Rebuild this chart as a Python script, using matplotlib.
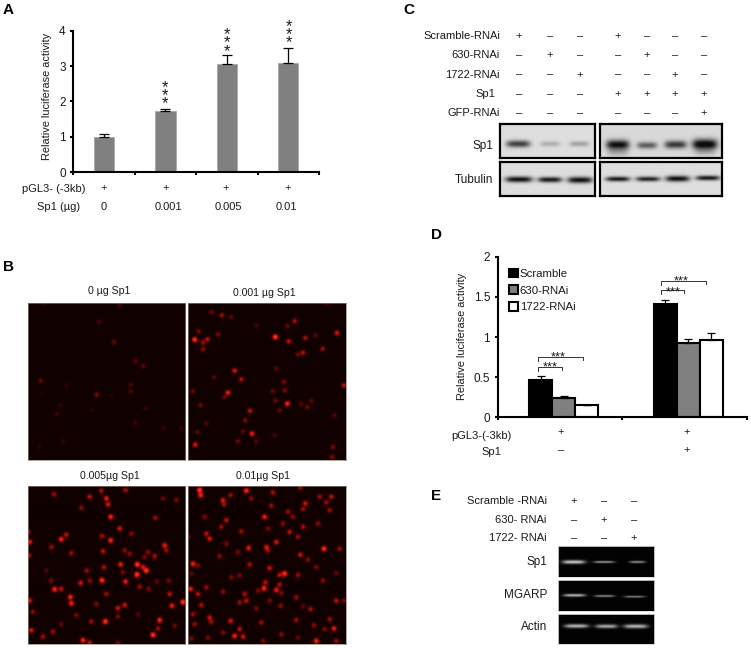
import numpy as np
import matplotlib
matplotlib.use("Agg")
import matplotlib.pyplot as plt
from matplotlib.colors import LinearSegmentedColormap

plt.rcParams['font.family'] = ['Liberation Sans', 'DejaVu Sans']
W, H = 751, 648
TXT = '#1a1a1a'

# ---- Panel A data
a_values = [1.0, 1.73, 3.05, 3.08]
a_errors = [0.08, 0.05, 0.25, 0.42]
a_yticks = [0, 1, 2, 3, 4]
a_doses = ['0', '0.001', '0.005', '0.01']

# ---- Panel D data
d_series = ['Scramble', '630-RNAi', '1722-RNAi']
d_scramble = [0.46, 1.41]
d_630 = [0.24, 0.93]
d_1722 = [0.15, 0.96]
d_err_scramble = [0.05, 0.05]
d_err_630 = [0.02, 0.05]
d_err_1722 = [0.0, 0.09]
d_yticks = [0, 0.5, 1, 1.5, 2]
d_yticklabels = ['0', '0.5', '1', '1.5', '2']

# ---- Panel C design table
c_rows = ['Scramble-RNAi', '630-RNAi', '1722-RNAi', 'Sp1', 'GFP-RNAi']
c_scr = '+--+---'
c_630 = '-+--+--'
c_1722 = '--+--+-'
c_sp1 = '---++++'
c_gfp = '------+'

# ---- Panel E design table
e_rows = ['Scramble -RNAi', '630- RNAi', '1722- RNAi']
e_scr = '+--'
e_630 = '-+-'
e_1722 = '--+'

# ---- Band strengths read from the blots
c_sp1_left = [0.8, 0.24, 0.3]
c_sp1_right = [1.0, 0.62, 0.8, 1.1]
c_tub_left = [1.0, 0.95, 1.0]
c_tub_right = [0.95, 0.9, 1.0, 0.95]
e_sp1 = [0.85, 0.6, 0.55]
e_mgarp = [0.75, 0.55, 0.5]
e_actin = [0.8, 0.75, 0.8]

# ---- Fluorescent spots (x, y in a 474-unit frame, brightness)
spots_0 = [(46,3,.14),(275,10,.16),(213,60,.16),(258,120,.24),(323,178,.2),(346,192,.2),(38,236,.24),(115,250,.1),
           (308,248,.16),(308,268,.16),(206,278,.3),(95,310,.1),(88,336,.13),(190,325,.08),(352,320,.1),(322,362,.13),
           (408,378,.1),(460,380,.1),(105,418,.1),(33,435,.08),(250,280,.06),(40,272,.06)]
spots_1 = [(20,113,.9),(45,122,.4),(58,112,.5),(45,142,.35),(32,88,.3),(90,97,.3),(70,30,.25),(102,40,.4),(130,45,.2),
           (262,105,1),(302,118,.5),(352,108,.45),(320,57,.45),(298,72,.25),(382,100,.2),(447,93,.6),(404,140,.4),
           (345,152,.45),(330,157,.25),(140,206,.6),(160,232,.45),(78,226,.2),(120,272,.7),(110,285,.25),(14,268,.25),
           (265,200,.2),(288,240,.3),(290,265,.3),(255,268,.25),(298,305,.8),(262,296,.25),(340,305,.2),(370,297,.2),
           (468,250,.5),(186,326,.5),(275,325,.25),(172,355,.3),(192,395,.7),(165,388,.2),(22,428,.6),(28,390,.2),
           (38,310,.25),(55,365,.2),(150,418,.25),(205,418,.2),(435,435,.3),(432,465,.3),(440,340,.2),(415,3,.2),
           (205,70,.15),(260,400,.15),(358,315,.25)]
spots_2 = [(78,28,.4),(185,35,.5),(235,40,.7),(240,58,.6),(220,17,.45),(293,15,.45),(160,68,.35),(248,95,.8),(382,98,.4),
           (405,40,.25),(445,45,.3),(275,130,.6),(310,145,.35),(100,162,.8),(115,148,.5),(222,152,.45),(248,165,.8),
           (5,170,.7),(0,140,.5),(70,185,.4),(130,203,.4),(2,210,.5),(225,197,.5),(290,195,.35),(305,205,.35),(410,180,.7),
           (415,195,.4),(360,200,.35),(380,212,.45),(328,237,1),(278,237,.7),(355,255,1),(345,245,.6),(327,267,1),
           (228,245,.45),(176,255,.4),(285,260,.3),(222,284,.95),(293,288,.7),(158,292,.6),(185,285,.35),(70,285,.3),
           (80,311,.85),(100,310,.5),(127,334,.8),(130,353,.75),(5,345,.6),(235,325,.4),(335,303,.4),(362,310,.3),
           (387,288,.25),(425,325,.5),(422,285,.3),(465,349,1),(432,360,.7),(270,367,.55),(290,358,.55),(205,355,.3),
           (270,392,.3),(232,407,.95),(190,407,.4),(145,388,.3),(395,403,.8),(375,447,.95),(390,428,.4),(10,433,.6),
           (45,452,.4),(75,437,.4),(165,463,.8),(185,470,.5),(440,420,.25),(15,378,.35),(100,415,.25),(330,385,.2),
           (270,470,.25),(350,215,.3),(55,255,.2)]
spots_3 = [(35,15,1),(38,30,.8),(175,17,.85),(128,30,.4),(255,22,.45),(337,8,.4),(105,45,.6),(108,58,.4),(190,40,.35),
           (250,62,.4),(395,35,.4),(430,35,.5),(415,52,.4),(352,55,.55),(345,72,.4),(425,75,.4),(300,80,.4),(230,95,.75),
           (50,95,.3),(115,105,.5),(100,125,.4),(315,95,.35),(285,115,.35),(345,125,.45),(390,115,.35),(55,145,.5),
           (65,160,.6),(160,138,.4),(240,130,.3),(305,140,.5),(330,155,.4),(0,155,.3),(265,170,.6),(182,188,.7),(235,185,.55),
           (240,195,.4),(408,190,.9),(455,190,.4),(115,175,.3),(95,212,.35),(150,200,.3),(337,208,.55),(360,222,.35),
           (15,235,.75),(30,240,.3),(185,237,.45),(245,248,.55),(385,245,.3),(290,264,.95),(275,268,.5),(330,268,.4),
           (10,265,.25),(130,275,.3),(155,270,.3),(405,285,.35),(445,262,.25),(228,308,.85),(232,290,.5),(265,313,.7),
           (275,297,.45),(8,310,.7),(55,305,.4),(30,325,.5),(105,318,.35),(170,325,.45),(175,345,.5),(155,350,.4),(210,315,.3),
           (280,322,.3),(325,335,.4),(40,358,.45),(278,360,.35),(445,345,.5),(468,345,.3),(245,345,.3),(205,368,.3),
           (368,370,.45),(15,385,.4),(20,415,.4),(65,395,.55),(70,408,.4),(128,405,.6),(220,410,.4),(325,402,.4),(345,362,.2),
           (425,400,.4),(378,418,.35),(438,428,.7),(410,430,.3),(155,430,.5),(140,450,.75),(165,452,.55),(105,440,.3),
           (60,455,.3),(385,465,.8),(280,445,.35),(10,458,.3),(445,465,.4),(330,455,.25),(225,465,.3)]

fig = plt.figure(figsize=(W / 100, H / 100), dpi=100, facecolor='white')


def ax_px(x0, y0, x1, y1, **kw):
    return fig.add_axes([x0 / W, 1 - y1 / H, (x1 - x0) / W, (y1 - y0) / H], **kw)


# Overlay in figure pixels for annotation text and brackets
ov = ax_px(0, 0, W, H, zorder=10)
ov.set_xlim(0, W)
ov.set_ylim(H, 0)
ov.axis('off')


def label(x, y, s, ha='center', size=8.0, **kw):
    ov.text(x, y, s, ha=ha, va='center', fontsize=size, color=TXT, **kw)


def style_chart(ax):
    for s in ('top', 'right'):
        ax.spines[s].set_visible(False)
    for s in ('left', 'bottom'):
        ax.spines[s].set_linewidth(1.5)
    ax.tick_params(axis='both', width=1.5, length=2.5, labelsize=8.5, labelcolor=TXT, pad=3)
    ax.tick_params(axis='x', labelbottom=False)
    ax.patch.set_alpha(0)


# ---- Panel A
axA = ax_px(73.3, 30.7, 319, 172.3)
xa = np.arange(len(a_values))
axA.bar(xa, a_values, width=0.33, color='#808080', edgecolor='#a8a8a8', linewidth=0.6,
        yerr=[np.zeros(len(a_errors)), a_errors],
        error_kw=dict(ecolor='black', elinewidth=0.9, capsize=3.4, capthick=0.9))
axA.set_xlim(-0.5, 3.5)
axA.set_ylim(0, 4)
axA.set_yticks(a_yticks)
axA.set_xticks(np.arange(-0.5, 3.6, 1))
style_chart(axA)
ov.text(46.7, 96, 'Relative luciferase activity', rotation=90, ha='center', va='center', fontsize=7.9, color=TXT)
label(86, 189, 'pGL3- (-3kb)', ha='right')
label(80, 206.7, 'Sp1 (µg)', ha='right')
for px, dose, dpx in zip([104, 166, 226, 288], a_doses, [103.7, 168.3, 228, 286]):
    label(px, 188.5, '+')
    label(dpx, 206.7, dose)
for px, ys in zip([165, 226.7, 288.7], [[82.7, 90.3, 98.3], [29.3, 37, 46], [21.7, 29.3, 37]]):
    for y in ys:
        ov.text(px, y + 9.7, '*', ha='center', va='baseline', fontsize=12, color=TXT)

# ---- Panel D
axD = ax_px(497.7, 256.7, 746.7, 417.3)
xd = np.arange(2)
dw = 0.185
bar_kw = dict(width=dw, linewidth=1.5, edgecolor='black',
              error_kw=dict(ecolor='black', elinewidth=0.9, capsize=3.0, capthick=0.9))
b1 = axD.bar(xd - dw, d_scramble, color='black', yerr=[[0, 0], d_err_scramble], label=d_series[0], **bar_kw)
b2 = axD.bar(xd, d_630, color='#808080', yerr=[[0, 0], d_err_630], label=d_series[1], **bar_kw)
b3 = axD.bar(xd + dw, d_1722, color='white', yerr=[[0, 0], d_err_1722], label=d_series[2], **bar_kw)
axD.set_xlim(-0.5 - 0.03, 1.5 - 0.03)
axD.set_ylim(0, 2)
axD.set_yticks(d_yticks, d_yticklabels)
axD.set_xticks([-0.53 + 0.0, 0.47 + 0.0, 1.47])
style_chart(axD)
axD.legend(handles=[b1, b2, b3], frameon=False, fontsize=8.2, loc='upper left',
           bbox_to_anchor=(0.045, 0.925), handlelength=0.8, handleheight=0.8, handletextpad=0.15,
           labelspacing=0.55, borderaxespad=0, borderpad=0, labelcolor=TXT)
ov.text(461.7, 336.7, 'Relative luciferase activity', rotation=90, ha='center', va='center', fontsize=7.9, color=TXT)
label(511.7, 435.7, 'pGL3-(-3kb)', ha='right')
label(501, 451.7, 'Sp1', ha='right')
for px, a, b in [(560.7, '+', '–'), (686.7, '+', '+')]:
    label(px, 432, a)
    label(px, 450.5, b)
brackets = [(538.3, 562.3, 367.3, 550.3, 363), (538.3, 582.7, 357, 558, 352.7),
            (661, 684.3, 290.3, 673, 287.7), (661, 705.7, 280.7, 681.3, 277)]
for x0, x1, yb, sx, sy in brackets:
    ov.plot([x0, x0, x1, x1], [yb + 4, yb, yb, yb + 3], color='#333333', lw=0.7)
    ov.text(sx, sy + 7.5, '***', ha='center', va='baseline', fontsize=9.3, color=TXT)

# ---- Panel B
red = LinearSegmentedColormap.from_list('fluo', ['#100000', '#c80f08', '#ff3a20'])


def fluorescence(spots, n=158, sigma=1.75):
    yy, xx = np.mgrid[0:n, 0:n] + 0.5
    img = np.zeros((n, n))
    for sx, sy, v in spots:
        img += v * np.exp(-((xx - sx / 3) ** 2 + (yy - sy / 3) ** 2) / (2 * sigma ** 2))
    return np.clip(img, 0, 1)


for box, spots in [((27.7, 302.7, 185.3, 460.3), spots_0), ((187.7, 302.7, 345.7, 460.3), spots_1),
                   ((27.7, 485.7, 185.3, 643.7), spots_2), ((187.7, 485.7, 345.7, 643.7), spots_3)]:
    ax = ax_px(*box)
    ax.imshow(fluorescence(spots), cmap=red, vmin=0, vmax=1, interpolation='bilinear', aspect='auto')
    ax.set_xticks([])
    ax.set_yticks([])
    for s in ax.spines.values():
        s.set_color('#8c8078')
        s.set_linewidth(0.5)
label(109, 290.7, '0 µg Sp1', size=7.6)
label(264.3, 292.7, '0.001 µg Sp1', size=7.6)
label(109.7, 476, '0.005µg Sp1', size=7.6)
label(263.3, 476, '0.01µg Sp1', size=7.6)


# ---- Blot / gel helper
def gel(box, centers, cys, strengths, hws, hhs, bg, fg, border=None, extra=()):
    x0, y0, x1, y1 = box
    ax = ax_px(*box)
    nx, ny = int(round(x1 - x0)), int(round(y1 - y0))
    yy, xx = np.mgrid[0:ny, 0:nx] + 0.5
    img = np.zeros((ny, nx))
    bands = list(zip(centers, cys, strengths, hws, hhs)) + list(extra)
    for cx, cy, v, hw, hh in bands:
        img += v * np.exp(-((xx + x0 - cx) / hw) ** 4) * np.exp(-((yy + y0 - cy) / hh) ** 2)
    img = bg + (fg - bg) * np.clip(img, 0, 1)
    ax.imshow(img, cmap='gray', vmin=0, vmax=1, interpolation='bilinear', aspect='auto')
    ax.set_xticks([])
    ax.set_yticks([])
    for s in ax.spines.values():
        if border:
            s.set_color('black')
            s.set_linewidth(border)
        else:
            s.set_color('#d8d8d8')
            s.set_linewidth(0.6)


# ---- Panel C
for rowy, name, pattern, lx in zip([35.7, 55, 74.6, 94, 113], c_rows,
                                   [c_scr, c_630, c_1722, c_sp1, c_gfp],
                                   [500, 500, 500, 495, 500]):
    label(lx, rowy, name, ha='right')
    for cx, m in zip([519, 550, 580, 618, 647, 675, 703.7], pattern):
        label(cx, rowy, '+' if m == '+' else '–')
label(493.5, 145.5, 'Sp1', ha='right', size=8.5)
label(493, 180, 'Tubulin', ha='right', size=8.5)
gel((500, 124, 595, 158.3), [518.3, 550, 579.3], [144.3] * 3, c_sp1_left, [12, 10, 10], [3.4, 2.6, 2.6], 0.87, 0.08, 1.6)
gel((600, 124, 722.3, 158.3), [617.7, 646.7, 675, 704], [145, 145.7, 145, 144.7], c_sp1_right, [11.5, 10, 11, 12.5], [4.5, 3.2, 3.8, 5],
    0.85, 0.05, 1.6, extra=[(617.7, 152, 0.25, 10, 4), (704, 152, 0.2, 10, 3.5)])
gel((500, 162.3, 595, 196), [519, 550, 580], [179.7, 180, 180.3], c_tub_left, [13.5, 12, 12.5], [3.0, 2.8, 3.2], 0.87, 0.07, 1.6)
gel((600, 162.3, 722.3, 196), [617.7, 647.7, 677, 707], [179.3, 179.3, 179, 178.3], c_tub_right, [12, 12, 12, 12], [2.5, 2.5, 3.0, 2.5], 0.87, 0.07, 1.6)

# ---- Panel E
for rowy, name, pattern in zip([500.7, 519.7, 538], e_rows, [e_scr, e_630, e_1722]):
    label(546.7, rowy, name, ha='right')
    for cx, m in zip([574, 603.7, 634], pattern):
        label(cx, rowy, '+' if m == '+' else '–')
label(547, 561.7, 'Sp1', ha='right', size=8.5)
label(547, 595, 'MGARP', ha='right', size=8.5)
label(547, 627, 'Actin', ha='right', size=8.5)
gel((557.7, 546.3, 654, 577), [573.3, 603.3, 636.3], [562.3] * 3, e_sp1, [11.5, 10.5, 8], [1.9, 1.2, 1.3], 0.01, 0.88)
gel((557.7, 580, 654, 610.7), [574, 603.7, 633.3], [595.3, 596, 596.7], e_mgarp, [11, 10, 10.5], [1.5, 1.2, 1.1], 0.01, 0.88)
gel((557.7, 613.7, 654, 644.3), [576, 605.7, 634.7], [626.7, 627, 627], e_actin, [12, 11, 12], [2.0, 2.0, 2.1], 0.01, 0.85)

# ---- Panel letters
for x, y, s in [(3, 10, 'A'), (3, 267, 'B'), (403, 10, 'C'), (431, 235, 'D'), (431, 496, 'E')]:
    ov.text(x, y, s, ha='left', va='center', fontsize=11, fontweight='bold', color='black')

fig.savefig('out.png', dpi=100)
